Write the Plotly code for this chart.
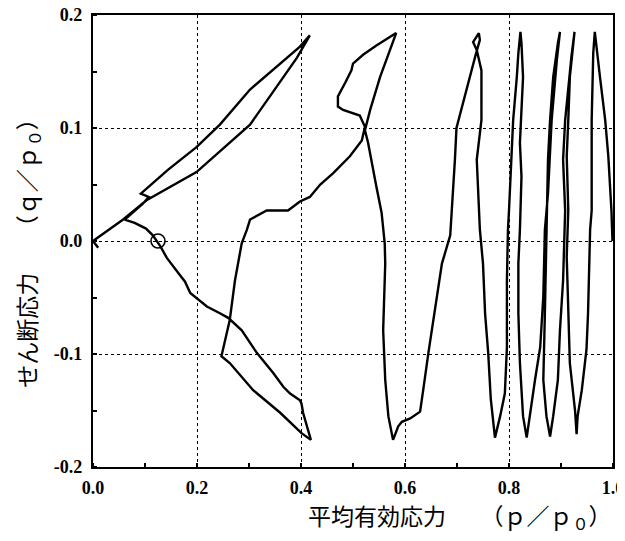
import plotly.graph_objects as go

# Effective stress path (p/p0, q/p0) in time order
p_path = [0.999, 0.997, 0.991, 0.985, 0.975, 0.969, 0.965,
          0.962, 0.959, 0.959, 0.956, 0.952, 0.949, 0.940, 0.932, 0.930,
          0.927, 0.917, 0.914, 0.911, 0.914, 0.911, 0.914, 0.917, 0.926,
          0.920, 0.908, 0.904, 0.908, 0.904, 0.898, 0.894, 0.885, 0.879,
          0.872, 0.866, 0.869, 0.872, 0.875, 0.879, 0.885, 0.894, 0.898,
          0.892, 0.882, 0.875, 0.869, 0.866, 0.860, 0.850, 0.840, 0.834,
          0.827, 0.821, 0.818, 0.818, 0.821, 0.824, 0.821, 0.823, 0.827, 0.824, 0.822,
          0.818, 0.815, 0.808, 0.805, 0.800, 0.798, 0.796, 0.796, 0.792, 0.783, 0.773,
          0.765, 0.760, 0.754, 0.750, 0.744, 0.738, 0.747, 0.747, 0.738, 0.731, 0.742, 0.744, 0.736,
          0.725, 0.712, 0.699, 0.696, 0.690, 0.687, 0.671, 0.661, 0.645, 0.635, 0.629, 0.610, 0.594, 0.587, 0.577,
          0.568, 0.562, 0.558, 0.562, 0.561, 0.555, 0.545, 0.536, 0.529, 0.523, 0.533, 0.552, 0.571, 0.583,
          0.545, 0.520, 0.500, 0.497, 0.485, 0.471, 0.471, 0.481, 0.513, 0.523, 0.517, 0.494, 0.462, 0.437,
          0.417, 0.398, 0.375, 0.334, 0.302, 0.296, 0.286, 0.273, 0.263, 0.250, 0.247,
          0.263, 0.308, 0.360, 0.401, 0.419,
          0.411, 0.404, 0.401, 0.398, 0.379, 0.366, 0.347, 0.315, 0.286, 0.260, 0.244, 0.219, 0.187, 0.177,
          0.167, 0.142, 0.130, 0.122, 0.115, 0.102, 0.080, 0.061,
          0.096, 0.107, 0.092, 0.144, 0.199, 0.244, 0.302, 0.398, 0.417,
          0.392, 0.302, 0.199, 0.103, 0.058, 0.000, 0.010]
q_path = [0.000, 0.027, 0.075, 0.107, 0.145, 0.166, 0.185,
          0.166, 0.107, 0.027, 0.010, -0.064, -0.096, -0.132, -0.155, -0.171,
          -0.150, -0.108, -0.064, -0.014, 0.027, 0.075, 0.107, 0.145, 0.185,
          0.163, 0.107, 0.072, 0.027, -0.035, -0.079, -0.123, -0.155, -0.173,
          -0.155, -0.123, -0.064, 0.010, 0.072, 0.107, 0.145, 0.175, 0.185,
          0.160, 0.107, 0.042, 0.010, -0.049, -0.094, -0.123, -0.155, -0.174,
          -0.155, -0.108, -0.064, -0.020, 0.010, 0.057, 0.087, 0.107, 0.145, 0.175, 0.185,
          0.166, 0.145, 0.107, 0.072, 0.027, 0.010, -0.035, -0.094, -0.135, -0.155, -0.174,
          -0.140, -0.099, -0.064, -0.020, 0.010, 0.072, 0.107, 0.151, 0.169, 0.176, 0.184, 0.178, 0.165,
          0.145, 0.122, 0.100, 0.072, 0.027, 0.005, -0.020, -0.049, -0.099, -0.132, -0.151, -0.157, -0.160, -0.164, -0.176,
          -0.155, -0.123, -0.079, -0.020, -0.002, 0.025, 0.048, 0.072, 0.087, 0.098, 0.116, 0.145, 0.169, 0.184,
          0.173, 0.165, 0.157, 0.151, 0.140, 0.128, 0.119, 0.116, 0.111, 0.101, 0.089, 0.075, 0.060, 0.050,
          0.039, 0.035, 0.027, 0.027, 0.019, 0.010, -0.002, -0.035, -0.070, -0.094, -0.102,
          -0.108, -0.132, -0.152, -0.170, -0.176,
          -0.164, -0.152, -0.144, -0.141, -0.135, -0.129, -0.117, -0.099, -0.079, -0.068, -0.064, -0.058, -0.046, -0.036,
          -0.030, -0.015, -0.005, 0.000, 0.005, 0.011, 0.016, 0.019,
          0.033, 0.039, 0.042, 0.063, 0.083, 0.103, 0.134, 0.172, 0.182,
          0.162, 0.103, 0.061, 0.036, 0.019, 0.000, -0.006]

# Marked point (open circle)
circle_p = [0.125]
circle_q = [0.0]

x_ticks = [0.0, 0.2, 0.4, 0.6, 0.8, 1.0]
x_tick_text = ["0.0", "0.2", "0.4", "0.6", "0.8", "1.0"]
y_ticks = [0.2, 0.1, 0.0, -0.1, -0.2]
y_tick_text = ["0.2", "0.1", "0.0", "-0.1", "-0.2"]

x_title = "平均有効応力　　（ｐ／ｐ<sub>０</sub>）"
y_title = "せん断応力　　（ｑ／ｐ<sub>０</sub>）"

fig = go.Figure()
fig.add_trace(go.Scatter(x=p_path, y=q_path, mode="lines",
                         line=dict(color="black", width=2.4),
                         showlegend=False, hoverinfo="skip", cliponaxis=True))
fig.add_trace(go.Scatter(x=circle_p, y=circle_q, mode="markers",
                         marker=dict(symbol="circle-open", size=14,
                                     line=dict(color="black", width=1.6), color="black"),
                         showlegend=False, hoverinfo="skip"))

tickfont = dict(family="Liberation Serif", size=18, color="black")
fig.update_xaxes(range=[0, 1.0], tickvals=x_ticks,
                 ticktext=["<b>" + t + "</b>" for t in x_tick_text],
                 showgrid=True, gridcolor="black", gridwidth=1.3, griddash="dot",
                 showline=True, linecolor="black", linewidth=2.2, mirror=True,
                 zeroline=False, ticks="", tickfont=tickfont, ticklabelstandoff=3,
                 automargin=False, ticklabeloverflow="allow",
                 minor=dict(dtick=0.1, ticks="inside", ticklen=4, tickwidth=2,
                            tickcolor="black", showgrid=False))
fig.update_yaxes(range=[-0.2, 0.2], tickvals=y_ticks,
                 ticktext=["<b>" + t + "</b>" for t in y_tick_text],
                 showgrid=True, gridcolor="black", gridwidth=1.3, griddash="dot",
                 showline=True, linecolor="black", linewidth=2.2, mirror=True,
                 zeroline=False, ticks="", tickfont=tickfont, ticklabelstandoff=5,
                 automargin=False, ticklabeloverflow="allow",
                 minor=dict(dtick=0.05, ticks="inside", ticklen=4, tickwidth=2,
                            tickcolor="black", showgrid=False))

fig.add_annotation(text=x_title, xref="paper", yref="paper", x=0.706, y=-0.11,
                   xanchor="center", yanchor="middle", showarrow=False,
                   font=dict(family="Noto Sans CJK JP", size=23, color="black"))
fig.add_annotation(text=y_title, xref="paper", yref="paper", x=-0.125, y=0.485,
                   xanchor="center", yanchor="middle", showarrow=False, textangle=-90,
                   font=dict(family="Noto Sans CJK JP", size=23, color="black"))

# the page body adds an 8px offset, so the figure is sized to end at the window edge
fig.update_layout(width=617, height=533, margin=dict(l=85, r=12, t=7, b=74, autoexpand=False),
                  paper_bgcolor="white", plot_bgcolor="white")
fig.write_html("out.html")
